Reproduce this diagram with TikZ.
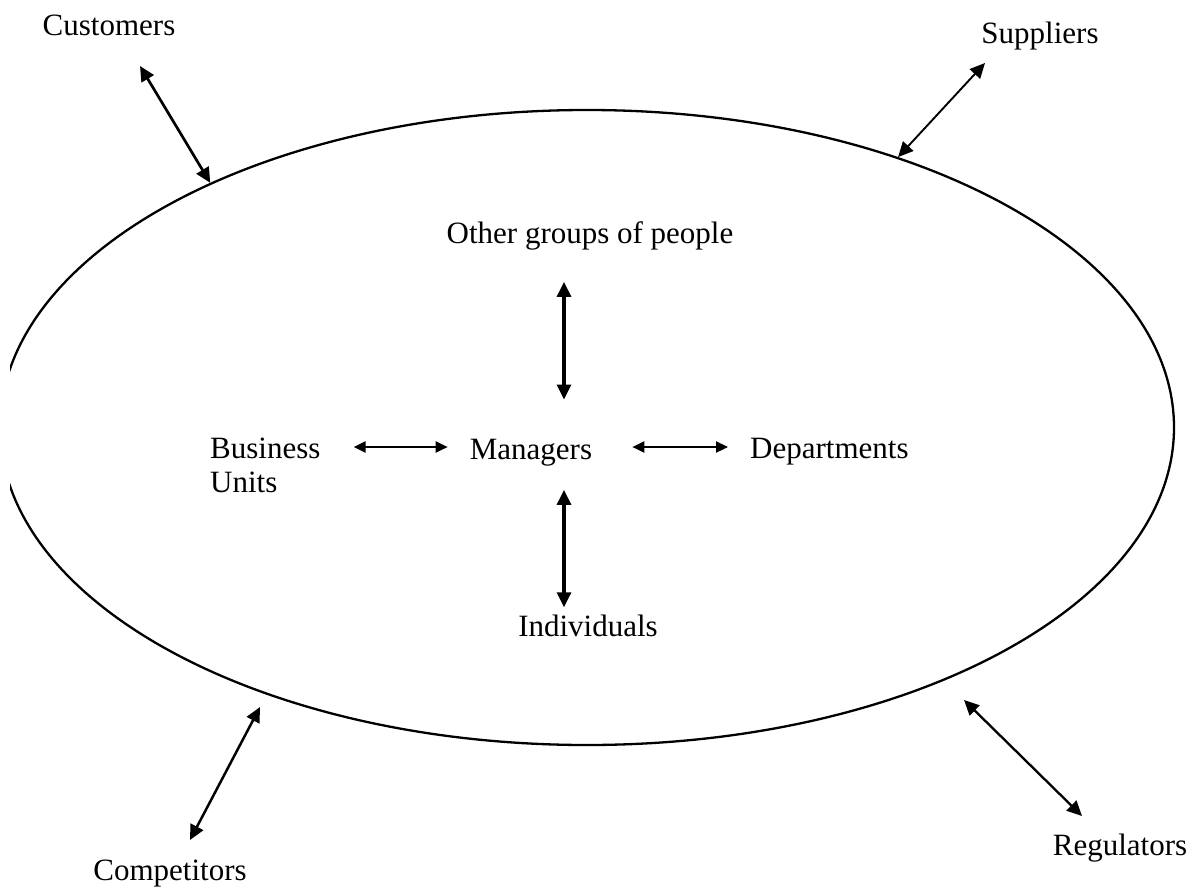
\documentclass[tikz,border=0pt]{standalone}
\usepackage{fontspec}
\setmainfont{Liberation Serif}
\usetikzlibrary{arrows.meta,shapes.geometric}
\begin{document}
\begin{tikzpicture}[x=1pt,y=-1pt,
  lbl/.style={inner sep=0pt, font=\fontsize{31pt}{34pt}\selectfont},
  arr/.style={line width=2.5pt,
    {Triangle[length=15pt,width=14pt]}-{Triangle[length=15pt,width=14pt]}},
  harr/.style={line width=2.3pt,
    {Triangle[length=12pt,width=11pt]}-{Triangle[length=12pt,width=11pt]}},
  ring/.style={ellipse, draw, line width=2.3pt, inner sep=0pt,
    minimum width=1174pt, minimum height=635pt}]
\useasboundingbox (0,0) rectangle (1191,886);
\fill[white] (0,0) rectangle (1191,886);
\begin{scope}
  \clip (10,-20) rectangle (1200,900);
  \node[ring] (E) at (587,427.5) {};
\end{scope}
% outer labels
\node[lbl, anchor=base] (cust) at (109,35) {Customers};
\node[lbl, anchor=base] (supp) at (1040,43) {Suppliers};
\node[lbl, anchor=base] (comp) at (170,880) {Competitors};
\node[lbl, anchor=base] (regu) at (1120,855) {Regulators};
% inner labels
\node[lbl, anchor=base] (other) at (590,243) {Other groups of people};
\node[lbl, anchor=base] (mgr) at (531,459) {Managers};
\node[lbl, anchor=base west] (dept) at (750,458) {Departments};
\node[lbl, anchor=north west, align=left] (bu) at (210,438) {Business\\Units};
\node[lbl, anchor=base] (ind) at (588,636) {Individuals};
% free ends
\coordinate (cuE) at (140,66);
\coordinate (suE) at (985,63);
\coordinate (coA) at (190,840);
\coordinate (coB) at (260,707);
\coordinate (reA) at (964,700);
\coordinate (reB) at (1082,816);
\coordinate (vx) at (564,0);
\coordinate (hy) at (0,447);
% outer arrows
\draw[arr, line width=2.7pt] (cuE) -- (E.147.25);
\draw[arr, line width=1.9pt] (suE) -- (E.41.57);
\draw[arr] (coB) -- (coA);
\draw[arr, line width=2.3pt] (reA) -- (reB);
% inner arrows
\draw[arr, line width=3.2pt, shorten <=32pt, shorten >=39pt] (other.south -| vx) -- (mgr.north -| vx);
\draw[arr, line width=3.2pt, shorten <=24pt, shorten >=7pt] (mgr.south -| vx) -- (ind.north -| vx);
\draw[harr, shorten <=33pt, shorten >=22pt] (bu.east |- hy) -- (mgr.west |- hy);
\draw[harr, shorten <=40pt, shorten >=22pt] (mgr.east |- hy) -- (dept.west |- hy);
\end{tikzpicture}
\end{document}
